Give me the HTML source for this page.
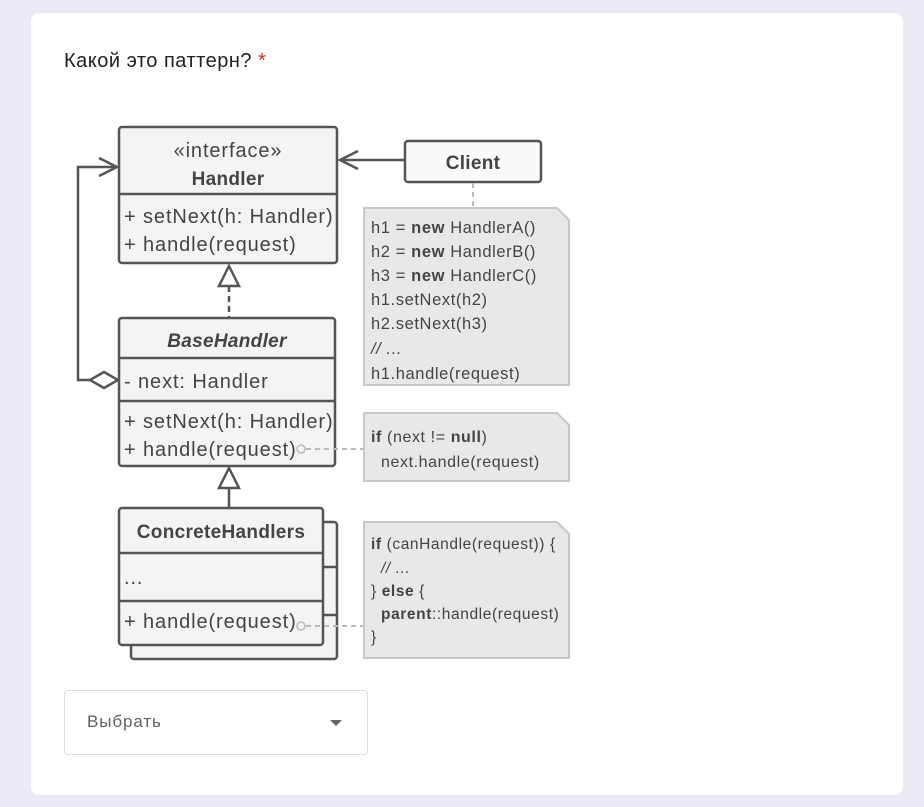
<!DOCTYPE html>
<html><head><meta charset="utf-8"><style>
html,body{margin:0;padding:0;width:924px;height:807px;background:#ede9f6;overflow:hidden;font-family:"Liberation Sans",sans-serif}
.card{position:absolute;left:31px;top:13px;width:872px;height:782px;background:#fff;border-radius:8px}
.q{position:absolute;left:64px;top:50px;font-size:20px;letter-spacing:0.5px;color:#202124}
.q span{color:#d93025}
.dd{position:absolute;left:64px;top:690px;width:304px;height:65px;border:1px solid #dadce0;border-radius:4px;box-sizing:border-box}
.dd .t{position:absolute;left:22px;top:21px;font-size:17px;letter-spacing:0.9px;color:#5f6368}
.dd .a{position:absolute;left:265px;top:29px;width:0;height:0;border-left:6px solid transparent;border-right:6px solid transparent;border-top:6px solid #5f6368}
svg{position:absolute;left:0;top:0}
svg text{font-family:"Liberation Sans",sans-serif;fill:#444}
.b{letter-spacing:0.9px}
.n{letter-spacing:0.6px}
</style></head><body>
<div class="card"></div>
<div class="q">Какой это паттерн? <span>*</span></div>
<svg width="924" height="807">
<g stroke="#555" stroke-width="2.5" fill="#f4f4f4">
<rect x="119" y="127" width="218" height="136" rx="3"/>
<line x1="119" y1="194" x2="337" y2="194"/>
<rect x="119" y="318" width="216" height="148" rx="3"/>
<line x1="119" y1="358" x2="335" y2="358"/>
<line x1="119" y1="401" x2="335" y2="401"/>
<rect x="131" y="522" width="206" height="137" rx="3"/>
<line x1="323" y1="567" x2="337" y2="567"/>
<line x1="323" y1="615" x2="337" y2="615"/>
<rect x="119" y="508" width="204" height="137" rx="3"/>
<line x1="119" y1="553" x2="323" y2="553"/>
<line x1="119" y1="601" x2="323" y2="601"/>
<rect x="405" y="141" width="136" height="41" rx="3" fill="#fafafa"/>
</g>
<g stroke="#555" stroke-width="2.5" fill="none">
<line x1="405" y1="160" x2="340" y2="160"/>
<polyline points="358,151 340,160 358,169"/>
<polyline points="104,380 78,380 78,167 117,167"/>
<polyline points="99,158 117,167 99,176"/>
<polygon points="90,380 104,372 118,380 104,388" fill="#fff"/>
<line x1="229" y1="286" x2="229" y2="318" stroke-dasharray="6,4"/>
<polygon points="229,266 219,286 239,286" fill="#fff"/>
<line x1="229" y1="488" x2="229" y2="508"/>
<polygon points="229,468 219,488 239,488" fill="#fff"/>
</g>
<g stroke="#bbb" stroke-width="2" fill="none" stroke-dasharray="5,4">
<line x1="473" y1="183" x2="473" y2="208"/>
<line x1="306" y1="449" x2="364" y2="449"/>
<line x1="306" y1="626" x2="364" y2="626"/>
</g>
<g stroke="#bbb" stroke-width="1.5" fill="none">
<circle cx="301" cy="449" r="4"/><circle cx="301" cy="626" r="4"/>
</g>
<g stroke="#c8c8c8" stroke-width="2" fill="#e8e8e8">
<polygon points="364,208 557,208 569,220 569,385 364,385"/>
<polygon points="364,413 557,413 569,425 569,481 364,481"/>
<polygon points="364,522 557,522 569,534 569,658 364,658"/>
</g>
<g font-size="20" class="b">
<text x="228" y="157" text-anchor="middle">«interface»</text>
<text x="228" y="185" text-anchor="middle" font-weight="bold" font-size="19" letter-spacing="0.3">Handler</text>
<text x="124" y="223">+ setNext(h: Handler)</text>
<text x="124" y="251">+ handle(request)</text>
<text x="227" y="347" text-anchor="middle" font-weight="bold" font-style="italic" font-size="19" letter-spacing="0.3">BaseHandler</text>
<text x="124" y="388">- next: Handler</text>
<text x="124" y="428">+ setNext(h: Handler)</text>
<text x="124" y="456">+ handle(request)</text>
<text x="221" y="538" text-anchor="middle" font-weight="bold" font-size="19" letter-spacing="0.3">ConcreteHandlers</text>
<text x="124" y="584">...</text>
<text x="124" y="628">+ handle(request)</text>
<text x="473" y="169" text-anchor="middle" font-weight="bold" font-size="19" letter-spacing="0.3">Client</text>
</g>
<g font-size="16.5" class="n">
<text x="371" y="233">h1 = <tspan font-weight="bold">new</tspan> HandlerA()</text>
<text x="371" y="257">h2 = <tspan font-weight="bold">new</tspan> HandlerB()</text>
<text x="371" y="281">h3 = <tspan font-weight="bold">new</tspan> HandlerC()</text>
<text x="371" y="305">h1.setNext(h2)</text>
<text x="371" y="329">h2.setNext(h3)</text>
<text x="371" y="354" font-style="italic" fill="#888">// ...</text>
<text x="371" y="379">h1.handle(request)</text>
<text x="371" y="442" font-size="16"><tspan font-weight="bold">if</tspan> (next != <tspan font-weight="bold">null</tspan>)</text>
<text x="381" y="467" font-size="16">next.handle(request)</text>
<text x="371" y="549" font-size="15.5"><tspan font-weight="bold">if</tspan> (canHandle(request)) {</text>
<text x="381" y="573" font-size="15.5" font-style="italic" fill="#888">// ...</text>
<text x="371" y="596" font-size="15.5">} <tspan font-weight="bold">else</tspan> {</text>
<text x="381" y="619" font-size="15.5"><tspan font-weight="bold">parent</tspan>::handle(request)</text>
<text x="371" y="642" font-size="15.5">}</text>
</g>
</svg>
<div class="dd"><div class="t">Выбрать</div><div class="a"></div></div>
</body></html>
